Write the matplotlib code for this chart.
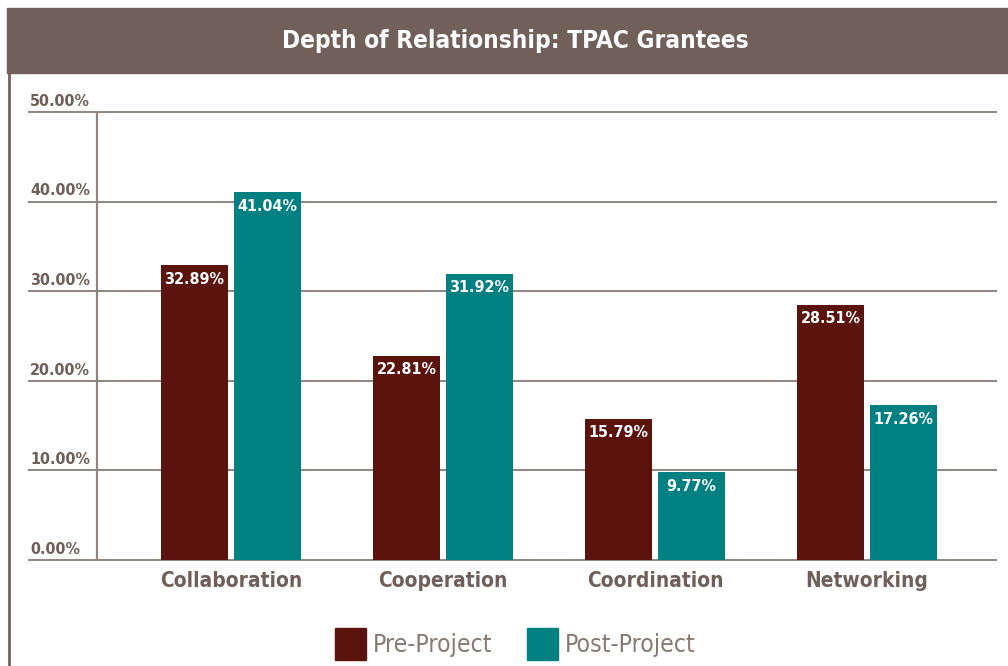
import matplotlib
matplotlib.use("Agg")
import matplotlib.pyplot as plt
from matplotlib.patches import Rectangle
from matplotlib.lines import Line2D
import numpy as np

categories = ["Collaboration", "Cooperation", "Coordination", "Networking"]
series_names = ["Pre-Project", "Post-Project"]
pre_values = [32.89, 22.81, 15.79, 28.51]
post_values = [41.04, 31.92, 9.77, 17.26]
yticks = [0, 10, 20, 30, 40, 50]
ytick_labels = ["0.00%", "10.00%", "20.00%", "30.00%", "40.00%", "50.00%"]
title = "Depth of Relationship: TPAC Grantees"

FONT = ["DejaVu Sans"]
plt.rcParams["font.family"] = FONT
plt.rcParams["font.stretch"] = "condensed"
W, H = 1008, 666
fig = plt.figure(figsize=(W / 100, H / 100), dpi=100)
fig.patch.set_facecolor("white")

BROWN = "#706059"
TEXT = "#6f5f58"
PRE = "#5a130d"
POST = "#008080"
GRID = "#8f8580"

# title bar
fig.patches.append(Rectangle((7 / W, 1 - 73 / H), 1 - 7 / W, 65 / H,
                             transform=fig.transFigure, color=BROWN, zorder=0))
fig.text(515 / W, 1 - 41 / H, title, color="white", fontsize=17.5, fontweight="bold",
         ha="center", va="center", fontstretch="condensed")
# left border
fig.lines.append(Line2D([8.5 / W, 8.5 / W], [0, 1 - 73 / H], transform=fig.transFigure,
                        color=BROWN, lw=2))

ax = fig.add_axes([97 / W, 1 - 560 / H, 900 / W, 448 / H])
x = np.arange(len(categories))
bw = 0.32
off = 0.172
ax.bar(x - off, pre_values, bw, color=PRE, zorder=3)
ax.bar(x + off, post_values, bw, color=POST, zorder=3)
ax.set_xlim(-0.632, 3.613)
ax.set_ylim(0, 50)
for s in ax.spines.values():
    s.set_visible(False)
ax.set_xticks([])
ax.set_yticks([])

# gridlines extending left
xext = (28 - 97) / 900
ax.hlines(yticks, xext, 1, transform=ax.get_yaxis_transform(), colors=GRID,
          lw=1.4, clip_on=False, zorder=1)
ax.vlines(0, 0, 1, transform=ax.transAxes, colors=GRID, lw=1.6, zorder=1, clip_on=False)
for v, lab in zip(yticks, ytick_labels):
    ax.text((30 - 97) / 900, v + 0.35, lab, transform=ax.get_yaxis_transform(),
            ha="left", va="bottom", fontsize=11.5, fontweight="bold", color=TEXT,
            clip_on=False, fontstretch="condensed")

# value labels
for xi, v in zip(x - off, pre_values):
    ax.text(xi, v - 0.7, f"{v:.2f}%", ha="center", va="top", color="white",
            fontsize=11.5, fontweight="bold", zorder=4, fontstretch="condensed")
for xi, v in zip(x + off, post_values):
    ax.text(xi, v - 0.7, f"{v:.2f}%", ha="center", va="top", color="white",
            fontsize=11.5, fontweight="bold", zorder=4, fontstretch="condensed")

# category labels
for xi, c in zip(x, categories):
    ax.text(xi, -2.35, c, ha="center", va="center", fontsize=15, fontweight="bold",
            color=TEXT, clip_on=False, fontstretch="condensed")

# legend
leg = [(335, PRE, series_names[0]), (527, POST, series_names[1])]
for px, col, name in leg:
    fig.patches.append(Rectangle((px / W, 1 - 660 / H), 31 / W, 32 / H,
                                 transform=fig.transFigure, color=col))
    fig.text((px + 38) / W, 1 - 645 / H, name, ha="left", va="center",
             fontsize=17.8, color="#867a74", fontstretch="condensed")

fig.savefig("out.png", dpi=100, facecolor="white")
